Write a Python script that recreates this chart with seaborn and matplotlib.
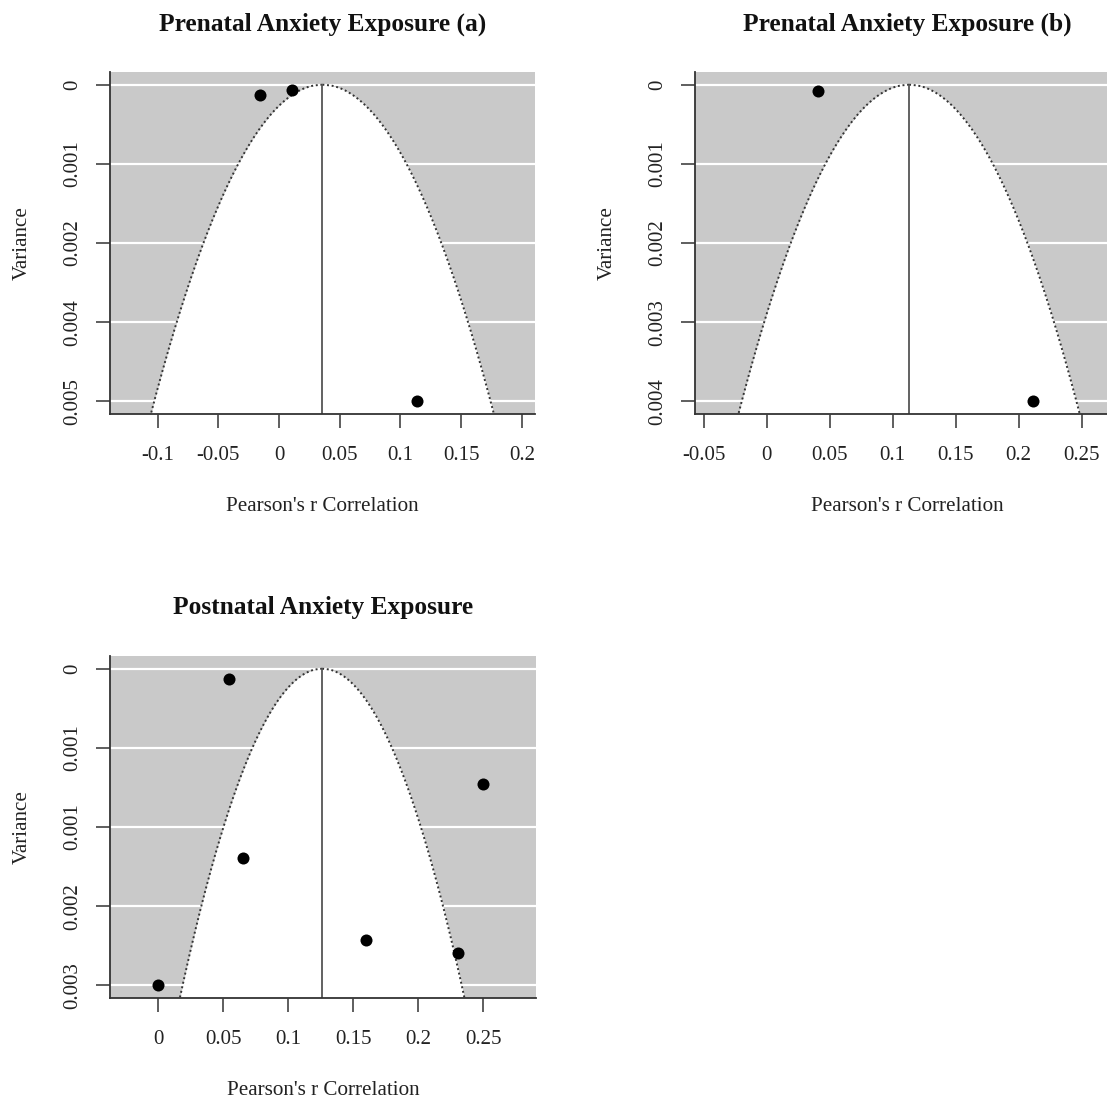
import numpy as np
import pandas as pd
import matplotlib
matplotlib.use("Agg")
import matplotlib.pyplot as plt
import seaborn as sns

# ---- data ----
titles = ["Prenatal Anxiety Exposure (a)", "Prenatal Anxiety Exposure (b)", "Postnatal Anxiety Exposure"]

a_r = [-0.016, 0.011, 0.114]
a_v = [0.00017, 0.00009, 0.005]
a_center = 0.0357

b_r = [0.0405, 0.2115]
b_v = [0.000077, 0.004]
b_center = 0.113

c_r = [0.054, 0.25, 0.065, 0.160, 0.2305, 0.0]
c_v = [0.000094, 0.00109, 0.00179, 0.00257, 0.00269, 0.003]
c_center = 0.126

a_xticks = [-0.1, -0.05, 0, 0.05, 0.1, 0.15, 0.2]
a_xlabels = ["-0.1", "-0.05", "0", "0.05", "0.1", "0.15", "0.2"]
b_xticks = [-0.05, 0, 0.05, 0.1, 0.15, 0.2, 0.25]
b_xlabels = ["-0.05", "0", "0.05", "0.1", "0.15", "0.2", "0.25"]
c_xticks = [0, 0.05, 0.1, 0.15, 0.2, 0.25]
c_xlabels = ["0", "0.05", "0.1", "0.15", "0.2", "0.25"]

a_ylabels = ["0", "0.001", "0.002", "0.004", "0.005"]
b_ylabels = ["0", "0.001", "0.002", "0.003", "0.004"]
c_ylabels = ["0", "0.001", "0.001", "0.002", "0.003"]

a_xlim = (-0.1393, 0.2109)
b_xlim = (-0.0569, 0.2804)
c_xlim = (-0.0372, 0.2905)

funnel_z = [1.96, 2.10, 1.96]

# ---- style ----
sns.set_theme(style="white")
plt.rcParams["font.family"] = ["Liberation Serif", "DejaVu Serif"]

W, H = 1107, 1101
fig = plt.figure(figsize=(W / 100, H / 100), dpi=100)

def rect(left, top, right, bottom):
    return [left / W, 1 - bottom / H, (right - left) / W, (bottom - top) / H]

panels = [
    dict(rect=rect(110, 72, 535, 414), r=a_r, v=a_v, c=a_center, xt=a_xticks, xl=a_xlabels,
         yl=a_ylabels, xlim=a_xlim, title=titles[0], z=funnel_z[0]),
    dict(rect=rect(695, 72, 1120, 414), r=b_r, v=b_v, c=b_center, xt=b_xticks, xl=b_xlabels,
         yl=b_ylabels, xlim=b_xlim, title=titles[1], z=funnel_z[1]),
    dict(rect=rect(110, 656, 536, 998), r=c_r, v=c_v, c=c_center, xt=c_xticks, xl=c_xlabels,
         yl=c_ylabels, xlim=c_xlim, title=titles[2], z=funnel_z[2]),
]

grey = "#C9C9C9"
for p in panels:
    ax = fig.add_axes(p["rect"])
    ax.set_facecolor(grey)
    vmax = max(p["v"])
    ext = vmax * 0.04
    ylim = (vmax + ext, -ext)
    yticks = np.linspace(0, vmax, 5)

    # white horizontal reference lines at y ticks
    for yt in yticks:
        ax.axhline(yt, color="white", lw=1.6, zorder=1)

    # funnel region
    vv = np.linspace(0, vmax + ext, 400)
    left = p["c"] - p["z"] * np.sqrt(vv)
    right = p["c"] + p["z"] * np.sqrt(vv)
    ax.fill_betweenx(vv, left, right, color="white", zorder=2, lw=0)
    ax.plot(left, vv, color="#333333", lw=1.4, ls=(0, (1, 1.4)), zorder=3)
    ax.plot(right, vv, color="#333333", lw=1.4, ls=(0, (1, 1.4)), zorder=3)

    # center line
    ax.plot([p["c"], p["c"]], [0, vmax + ext], color="#555555", lw=1.3, zorder=3)

    df = pd.DataFrame({"r": p["r"], "v": p["v"]})
    sns.scatterplot(data=df, x="r", y="v", ax=ax, color="black", s=75,
                    edgecolor="black", linewidth=0, zorder=4, legend=False)

    ax.set_xlim(*p["xlim"])
    ax.set_ylim(*ylim)
    ax.set_xticks(p["xt"])
    ax.set_xticklabels(p["xl"])
    ax.set_yticks(yticks)
    ax.set_yticklabels(p["yl"], rotation=90, va="center")

    for s in ["top", "right"]:
        ax.spines[s].set_visible(False)
    for s in ["left", "bottom"]:
        ax.spines[s].set_color("#333333")
        ax.spines[s].set_linewidth(1.3)
        ax.spines[s].set_zorder(5)

    ax.tick_params(axis="both", which="major", direction="out", length=10, width=1.1,
                   color="#333333", labelsize=15, labelcolor="#222222",
                   left=True, bottom=True)
    ax.tick_params(axis="x", pad=13)
    ax.tick_params(axis="y", pad=10)

    ax.set_xlabel("Pearson's r Correlation", fontsize=15.2, color="#222222", labelpad=23)
    ax.set_ylabel("Variance", fontsize=15.2, color="#222222", labelpad=23)
    ax.set_title(p["title"], fontsize=18.3, fontweight="bold", color="#111111", pad=30)
    ax.grid(False)

fig.savefig("out.png", dpi=100)
